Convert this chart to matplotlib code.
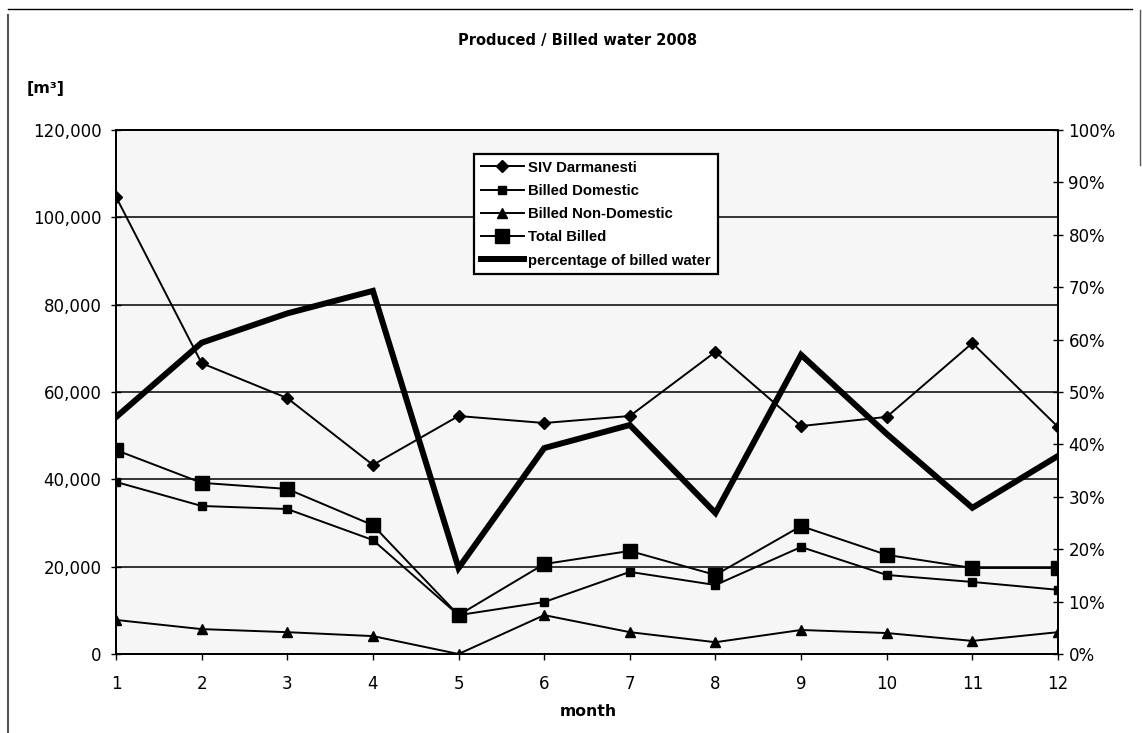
import matplotlib
matplotlib.use("Agg")
import matplotlib.pyplot as plt
from matplotlib.lines import Line2D
from matplotlib.ticker import FuncFormatter, MultipleLocator

plt.rcParams['font.family'] = ['DejaVu Sans']

months = [1, 2, 3, 4, 5, 6, 7, 8, 9, 10, 11, 12]
siv_darmanesti = [104700, 66600, 58600, 43300, 54500, 52900, 54500, 69200, 52200, 54300, 71200, 52000]
billed_domestic = [39400, 33900, 33200, 26100, 8900, 11900, 18800, 15800, 24500, 18100, 16500, 14700]
billed_non_domestic = [7800, 5700, 5000, 4100, 0, 8900, 5000, 2700, 5500, 4800, 3000, 5000]
total_billed = [46700, 39200, 37800, 29500, 8900, 20600, 23600, 18100, 29300, 22700, 19700, 19700]
pct_billed = [45.2, 59.4, 65.0, 69.3, 16.4, 39.3, 43.7, 26.9, 57.1, 42.0, 27.9, 37.8]

W, H = 1142, 733
fig = plt.figure(figsize=(W / 100, H / 100), dpi=100)
fig.patch.set_facecolor('white')

x0, x1 = 116, 1058
y0, y1 = 654, 130
ax = fig.add_axes([x0 / W, 1 - y0 / H, (x1 - x0) / W, (y0 - y1) / H])
ax2 = ax.twinx()

ax.set_xlim(1, 12)
ax.set_ylim(0, 120000)
ax2.set_ylim(0, 100)

ax.yaxis.set_major_locator(MultipleLocator(20000))
ax.yaxis.set_major_formatter(FuncFormatter(lambda v, p: f"{int(v):,}"))
ax2.yaxis.set_major_locator(MultipleLocator(10))
ax2.yaxis.set_major_formatter(FuncFormatter(lambda v, p: f"{int(round(v))}%"))
ax.set_xticks(months)

ax.grid(axis='y', color='black', linewidth=1.1)
ax.set_axisbelow(True)

for a in (ax, ax2):
    for s in a.spines.values():
        s.set_color('black')
        s.set_linewidth(1.4)
ax.spines['top'].set_linewidth(1.1)

ax.tick_params(axis='y', direction='inout', length=7, width=1, labelsize=12, pad=7)
ax.tick_params(axis='x', direction='out', length=4, width=1, labelsize=12, pad=11)
ax2.tick_params(axis='y', direction='inout', length=7, width=1, labelsize=12, pad=4)

lw = 1.4
l1, = ax.plot(months, siv_darmanesti, color='black', lw=lw, marker='D', markersize=6,
              label='SIV Darmanesti', zorder=4)
l2, = ax.plot(months, billed_domestic, color='black', lw=lw, marker='s', markersize=6,
              label='Billed Domestic', zorder=4)
l3, = ax.plot(months, billed_non_domestic, color='black', lw=lw, marker='^', markersize=7,
              label='Billed Non-Domestic', zorder=4)
l4, = ax.plot(months, total_billed, color='black', lw=lw, marker='s', markersize=9.5,
              label='Total Billed', zorder=4)
l5, = ax2.plot(months, pct_billed, color='black', lw=4.3, solid_joinstyle='miter',
               label='percentage of billed water', zorder=5)

# plot area: pale grey fill on the back axes, data axes transparent on top
ax2.patch.set_visible(True)
ax2.patch.set_facecolor('#f6f6f6')
ax.set_zorder(ax2.get_zorder() + 1)
ax.patch.set_visible(False)

leg = ax.legend(handles=[l1, l2, l3, l4, l5], loc='upper left',
                bbox_to_anchor=((474 - x0) / (x1 - x0), (654 - 154) / (y0 - y1)),
                frameon=True, fancybox=False, edgecolor='black', framealpha=1,
                prop={'family': 'Liberation Sans', 'weight': 'bold', 'size': 10.7},
                handlelength=2.9, handletextpad=0.3, labelspacing=0.62,
                borderpad=0.45, borderaxespad=0)
leg.get_frame().set_linewidth(1.6)
leg.set_zorder(10)

fig.text(578 / W, 1 - 40 / H, 'Produced / Billed water 2008', ha='center', va='center',
         fontsize=10.5, fontweight='bold')
fig.text(27 / W, 1 - 89 / H, '[m³]', ha='left', va='center', fontsize=11.4,
         fontweight='bold')
fig.text(588 / W, 1 - 712 / H, 'month', ha='center', va='center', fontsize=11.3,
         fontweight='bold')

# outer frame of the chart page
fig.add_artist(Line2D([8 / W, 1132 / W], [1 - 9 / H, 1 - 9 / H], color='black', lw=1.0,
                      transform=fig.transFigure))
fig.add_artist(Line2D([8 / W, 8 / W], [1 - 15 / H, 0], color='#555555', lw=1.5,
                      transform=fig.transFigure))
fig.add_artist(Line2D([1140 / W, 1140 / W], [1 - 10 / H, 1 - 165 / H], color='#555555',
                      lw=1.0, transform=fig.transFigure))

fig.savefig('out.png', dpi=100)
